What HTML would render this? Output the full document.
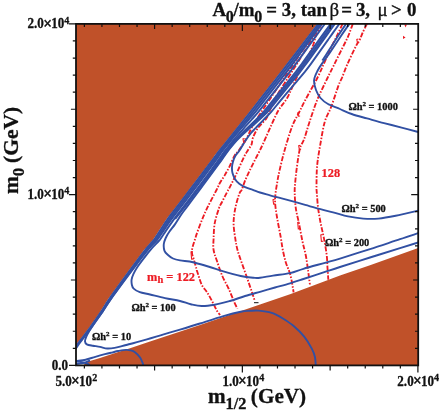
<!DOCTYPE html>
<html><head><meta charset="utf-8"><title>plot</title>
<style>
html,body{margin:0;padding:0;background:#fff;}
body{width:440px;height:415px;overflow:hidden;position:relative;font-family:"Liberation Serif",serif;}
svg{position:absolute;left:0;top:0;display:block;will-change:transform;}
text{font-family:"Liberation Serif",serif;font-weight:bold;}
</style></head><body>
<svg width="440" height="415" viewBox="0 0 440 415">
<rect x="0" y="0" width="440" height="415" fill="#fff"/>
<defs><clipPath id="pc"><rect x="76.0" y="23.9" width="342.2" height="341.5"/></clipPath></defs>
<g clip-path="url(#pc)">
<path d="M76.0 23.9L317.3 23.9L317.3 23.9L282.7 69.3L247.7 114.3L223.7 144.3L215.0 154.9L212.0 159.5L197.0 179.3L181.3 200.0L166.4 219.3L152.9 240.0L144.0 250.0L119.3 283.6L107.5 300.0L100.1 311.9L89.3 327.5L82.0 337.2L77.2 343.2L76.0 345.5L70.6 353.0Z" fill="#c05129"/>
<path d="M83.0 365.4L88.3 361.4L100.0 357.9L116.0 352.8L130.0 348.2L150.0 341.5L200.0 325.1L260.0 304.6L290.0 294.2L340.0 275.5L370.0 265.2L418.2 248.0L418.2 365.4Z" fill="#c05129"/>
<g fill="none" stroke="#ed1c24" stroke-width="1.85" stroke-dasharray="5 1.6 1.5 1.6">
<path d="M319.3 23.9C318.2 25.6 315.0 30.6 312.9 33.9C310.8 37.2 308.7 40.6 306.5 43.9C304.4 47.2 302.2 50.6 300.0 53.9C297.8 57.2 295.7 60.6 293.5 63.9C291.3 67.2 289.1 70.6 286.8 73.9C284.6 77.2 282.4 80.6 280.1 83.9C277.9 87.2 275.7 90.6 273.4 93.9C271.2 97.2 268.9 100.6 266.7 103.9C264.5 107.2 262.1 110.6 260.0 113.9C257.9 117.2 255.5 121.3 253.9 124.0C252.4 126.7 251.9 127.5 250.6 130.0C249.3 132.4 248.2 135.4 246.3 138.7C244.4 142.0 241.1 147.2 239.1 150.0C237.1 152.8 236.1 153.1 234.5 155.8C232.9 158.5 231.2 163.2 229.6 166.4C228.0 169.6 226.4 172.4 224.8 175.1C223.2 177.8 221.4 180.3 220.0 182.8C218.6 185.3 218.7 185.8 216.5 190.0C214.3 194.2 209.8 202.6 207.1 208.2C204.4 213.8 202.6 218.3 200.6 223.4C198.6 228.5 196.6 234.0 195.2 238.6C193.8 243.2 192.1 247.4 191.9 251.0C191.7 254.6 193.2 257.0 194.0 260.0C194.8 263.0 195.9 267.1 196.5 269.0C197.1 270.9 196.4 269.1 197.3 271.7C198.2 274.3 200.1 281.3 201.7 284.7C203.3 288.1 205.3 289.4 207.1 292.3C208.9 295.2 210.9 298.9 212.5 302.0C214.1 305.1 215.6 308.5 216.9 310.7C218.2 312.9 219.6 314.3 220.1 315.0"/>
<path d="M320.8 23.9C319.8 25.6 316.9 30.6 314.9 33.9C313.0 37.2 311.0 40.6 309.0 43.9C307.0 47.2 305.0 50.6 303.0 53.9C300.9 57.2 298.9 60.6 296.9 63.9C294.8 67.2 292.7 70.6 290.6 73.9C288.5 77.2 286.2 80.6 284.1 83.9C281.9 87.2 279.5 91.1 277.8 93.9C276.1 96.7 275.0 98.1 273.7 100.8C272.4 103.5 271.2 107.1 270.0 110.0C268.8 112.9 268.3 115.4 266.3 118.4C264.3 121.4 260.2 124.8 258.0 128.0C255.8 131.2 254.1 134.8 253.0 137.5C251.9 140.2 252.4 142.2 251.6 144.3C250.8 146.4 249.2 147.9 248.0 150.0C246.8 152.1 245.5 153.8 244.1 156.7C242.7 159.6 240.8 163.9 239.3 167.3C237.8 170.7 236.4 173.9 234.9 177.0C233.4 180.1 231.7 183.5 230.6 185.7C229.5 187.9 229.6 187.3 228.2 190.0C226.8 192.7 223.5 199.0 222.0 202.0C220.5 205.0 220.2 204.6 219.0 208.2C217.8 211.8 215.6 218.3 214.7 223.4C213.8 228.5 213.8 234.2 213.6 238.6C213.4 243.0 213.0 246.3 213.6 250.0C214.2 253.7 215.4 256.5 216.9 260.8C218.4 265.1 220.3 271.3 222.3 276.0C224.3 280.7 226.8 284.7 228.8 289.0C230.8 293.3 232.8 298.7 234.2 302.0C235.6 305.3 236.9 307.5 237.5 308.6"/>
<path d="M321.7 23.9C320.8 25.6 317.9 30.6 316.5 34.0C315.1 37.4 314.6 40.9 313.4 44.3C312.1 47.7 311.1 50.4 309.0 54.5C306.9 58.6 303.4 64.4 301.0 69.0C298.6 73.6 296.9 77.2 294.6 82.0C292.3 86.8 290.0 93.0 287.3 97.8C284.6 102.6 281.1 105.7 278.2 110.8C275.3 115.9 272.5 122.7 270.0 128.2C267.5 133.6 265.1 139.4 263.2 143.5C261.3 147.6 260.2 149.7 258.6 152.9C257.0 156.1 255.3 159.3 253.7 162.5C252.1 165.7 250.4 169.0 248.9 172.2C247.4 175.4 245.8 178.8 244.6 181.8C243.4 184.8 242.5 188.1 241.7 190.0C240.9 191.9 240.7 190.0 239.6 193.0C238.5 196.0 236.3 203.1 235.3 208.2C234.3 213.3 233.6 218.3 233.6 223.4C233.6 228.5 234.7 234.2 235.3 238.6C236.0 243.0 236.4 245.9 237.5 250.0C238.6 254.1 240.2 258.3 241.8 263.0C243.4 267.7 245.6 273.5 247.2 278.2C248.8 282.9 250.3 287.4 251.6 291.2C252.9 295.0 254.3 299.4 254.8 301.0"/>
<path d="M342.5 23.9C341.7 25.7 339.5 30.6 337.6 34.5C335.7 38.4 333.3 42.9 331.1 47.5C328.9 52.1 326.9 56.9 324.6 62.0C322.3 67.1 320.5 71.7 317.3 78.0C314.1 84.3 308.4 94.2 305.3 100.0C302.2 105.8 301.0 108.7 298.8 113.0C296.6 117.3 294.7 119.8 292.3 126.0C289.9 132.2 286.9 142.3 284.7 149.9C282.5 157.5 280.5 166.2 279.3 171.6C278.1 176.9 277.9 178.4 277.3 182.0C276.7 185.6 276.0 189.3 275.6 193.0C275.2 196.7 274.9 199.6 275.2 203.9C275.5 208.2 276.4 213.6 277.3 219.0C278.2 224.4 279.7 231.2 280.6 236.4C281.5 241.6 281.9 245.6 282.8 250.0C283.7 254.4 284.7 258.8 286.0 263.0C287.3 267.2 289.1 270.1 290.4 275.0C291.7 279.9 293.1 289.4 293.6 292.3"/>
<path d="M352.8 23.9C351.9 26.1 349.8 32.6 347.7 37.3C345.6 41.9 342.9 47.0 340.5 51.8C338.1 56.6 335.5 61.9 333.3 66.3C331.1 70.7 330.2 72.4 327.5 78.0C324.8 83.6 320.2 92.7 317.2 100.0C314.2 107.3 311.8 115.2 309.6 121.7C307.4 128.2 305.8 134.5 304.2 139.0C302.6 143.5 301.2 143.7 299.9 148.8C298.6 153.9 297.4 163.4 296.6 169.4C295.8 175.4 295.3 181.1 295.0 185.0C294.7 188.9 294.6 189.1 294.7 193.0C294.8 196.9 295.1 203.1 295.8 208.2C296.5 213.3 297.9 218.0 299.0 223.4C300.1 228.8 301.2 235.4 302.3 240.7C303.4 246.0 304.7 250.0 305.7 255.0C306.7 260.0 307.4 265.8 308.1 270.7C308.8 275.6 309.6 282.2 309.9 284.5"/>
<path d="M367.0 23.9C366.2 25.4 363.7 30.4 362.5 33.0C361.3 35.6 361.1 37.1 360.0 39.3C358.9 41.5 358.1 41.9 356.0 46.0C353.9 50.1 349.9 58.7 347.5 64.0C345.1 69.3 343.4 74.5 341.9 78.0C340.4 81.5 340.5 80.2 338.7 85.0C336.9 89.8 333.6 100.4 331.3 106.5C329.0 112.6 326.6 115.5 324.8 121.7C323.0 127.9 321.8 136.2 320.5 143.4C319.2 150.6 317.9 158.1 317.2 165.0C316.5 171.9 316.6 180.3 316.5 185.0C316.4 189.7 316.5 189.1 316.8 193.0C317.1 196.9 317.5 203.1 318.1 208.2C318.8 213.3 319.7 218.3 320.7 223.4C321.7 228.5 323.0 233.3 324.0 238.6C325.0 243.9 326.1 250.1 326.7 255.0C327.3 259.9 327.2 263.9 327.5 268.0C327.8 272.1 328.2 277.8 328.3 279.7"/>
</g>
<g fill="#3150a3" fill-opacity="0.55" stroke="none">
<path d="M318.2 23.9L312.1 31.9L306.0 39.9L299.9 47.9L293.8 55.9L287.7 63.9L281.6 71.9L275.4 79.9L269.1 87.9L262.9 95.9L256.7 103.9L250.5 111.9L244.1 119.9L237.7 127.9L231.3 135.9L224.9 143.9L218.4 151.9L212.6 159.9L206.5 167.9L200.5 175.9L194.4 183.9L188.3 191.9L182.3 199.9L176.1 207.9L169.9 215.9L164.3 223.9L159.1 231.9L153.9 239.9L146.8 247.9L140.6 255.9L134.7 263.9L128.8 271.9L122.9 279.9L117.1 287.9L111.4 295.9L106.0 303.9L101.0 311.9L95.5 319.9L89.9 327.9L83.9 335.9L77.7 343.9L71.5 353.0L72.7 353.0L79.0 343.9L85.1 335.9L91.2 327.9L96.9 319.9L102.5 311.9L107.6 303.9L113.1 295.9L119.0 287.9L124.9 279.9L130.9 271.9L137.0 263.9L143.0 255.9L149.6 247.9L157.2 239.9L162.7 231.9L168.1 223.9L173.9 215.9L180.1 207.9L186.3 199.9L192.3 191.9L198.4 183.9L204.4 175.9L210.3 167.9L216.2 159.9L221.7 151.9L228.1 143.9L234.7 135.9L241.6 127.9L248.6 119.9L255.5 111.9L261.7 103.9L267.9 95.9L274.1 87.9L280.4 79.9L286.6 71.9L292.6 63.9L298.4 55.9L304.3 47.9L310.2 39.9L316.0 31.9L321.9 23.9Z"/>
<path d="M330.6 23.9L324.8 31.9L319.0 39.9L313.3 47.9L307.5 55.9L301.8 63.9L295.8 71.9L289.4 79.9L282.9 87.9L276.5 95.9L270.1 103.9L263.6 111.9L255.7 119.9L247.4 127.9L239.1 135.9L231.9 143.9L225.6 151.9L220.0 159.9L214.2 167.9L206.0 179.0L207.6 179.0L215.8 167.9L221.7 159.9L227.3 151.9L233.7 143.9L241.3 135.9L250.1 127.9L259.2 119.9L267.6 111.9L274.1 103.9L280.6 95.9L287.1 87.9L293.6 79.9L300.1 71.9L306.1 63.9L311.9 55.9L317.7 47.9L323.4 39.9L329.1 31.9L334.8 23.9Z"/>
<path d="M233.4 140.0L227.2 148.0L221.1 156.0L215.6 164.0L209.8 172.0L204.0 180.0L197.9 188.0L191.8 196.0L185.7 204.0L179.5 212.0L174.1 219.0L175.2 219.0L180.7 212.0L186.9 204.0L193.1 196.0L199.2 188.0L205.3 180.0L211.2 172.0L217.0 164.0L222.5 156.0L228.7 148.0L234.9 140.0Z"/>
</g>
<g fill="none" stroke="#3150a3" stroke-width="1.9" stroke-linejoin="round">
<path d="M349.3 23.9C348.0 25.8 344.5 30.7 341.3 35.5C338.1 40.3 332.9 48.2 330.0 52.5C327.1 56.8 325.9 58.0 323.8 61.0C321.8 64.0 319.3 67.3 317.7 70.5C316.1 73.7 314.4 76.8 314.1 80.0C313.8 83.2 314.9 87.0 316.0 90.0C317.1 93.0 318.5 95.7 320.5 98.0C322.5 100.3 324.8 102.2 328.0 104.0C331.2 105.8 336.1 107.3 340.0 109.0C343.9 110.7 347.2 112.4 351.7 114.0C356.2 115.6 361.6 116.9 367.0 118.4C372.4 119.9 378.2 121.6 384.0 123.1C389.8 124.6 395.9 126.1 401.6 127.6C407.3 129.1 415.4 131.3 418.2 132.0"/>
<path d="M346.0 23.9C344.7 25.8 341.4 30.7 338.3 35.5C335.2 40.3 330.2 48.3 327.5 52.5C324.8 56.7 323.2 59.2 322.3 60.5"/>
<path d="M339.3 23.9C338.4 25.2 335.5 29.2 333.6 31.9C331.8 34.6 329.9 37.2 328.0 39.9C326.1 42.6 324.2 45.2 322.3 47.9C320.4 50.6 318.5 53.2 316.6 55.9C314.7 58.6 312.8 61.2 310.9 63.9C308.9 66.6 306.9 69.2 304.8 71.9C302.6 74.6 300.3 77.2 298.0 79.9C295.8 82.6 293.5 85.2 291.3 87.9C289.0 90.6 286.7 93.2 284.5 95.9C282.2 98.6 280.0 101.2 277.8 103.9C275.6 106.6 273.5 109.2 271.2 111.9C268.8 114.6 266.1 117.2 263.5 119.9C261.0 122.6 257.8 125.7 255.8 127.9C253.7 130.1 252.7 130.9 251.0 133.0C249.3 135.1 247.5 137.6 245.6 140.4C243.7 143.2 241.5 147.4 239.8 150.0C238.1 152.6 236.5 153.9 235.4 155.8C234.3 157.7 233.6 159.7 233.0 161.6C232.4 163.5 232.1 165.4 232.0 167.3C231.9 169.2 232.0 171.2 232.5 173.1C233.0 175.0 233.8 177.1 234.9 178.9C236.0 180.7 237.6 182.3 239.3 183.7C241.0 185.1 242.8 186.1 245.1 187.1C247.3 188.1 250.3 188.9 252.8 189.8C255.3 190.7 257.1 191.6 260.0 192.5C262.9 193.4 266.4 194.3 270.0 195.3C273.6 196.3 276.1 196.9 281.7 198.4C287.3 199.9 296.2 202.3 303.4 204.3C310.6 206.3 319.7 209.0 325.0 210.4C330.3 211.8 331.2 211.8 335.0 212.8C338.8 213.8 343.3 215.4 348.0 216.4C352.7 217.4 358.1 218.2 363.2 218.6C368.3 219.0 373.0 219.1 378.4 218.6C383.8 218.1 389.1 217.1 395.7 215.8C402.3 214.5 414.4 211.5 418.2 210.6"/>
<path d="M334.8 23.9C333.9 25.2 331.0 29.2 329.1 31.9C327.2 34.6 325.3 37.2 323.4 39.9C321.5 42.6 319.6 45.2 317.7 47.9C315.7 50.6 313.8 53.2 311.9 55.9C310.0 58.6 308.1 61.2 306.1 63.9C304.1 66.6 302.2 69.2 300.1 71.9C298.0 74.6 295.8 77.2 293.6 79.9C291.4 82.6 289.3 85.2 287.1 87.9C284.9 90.6 282.8 93.2 280.6 95.9C278.5 98.6 276.3 101.2 274.1 103.9C272.0 106.6 270.1 109.2 267.6 111.9C265.1 114.6 262.1 117.2 259.2 119.9C256.3 122.6 253.1 125.2 250.1 127.9C247.1 130.6 244.0 133.2 241.3 135.9C238.5 138.6 236.0 141.2 233.7 143.9C231.4 146.6 229.3 149.2 227.3 151.9C225.3 154.6 223.6 157.2 221.7 159.9C219.8 162.6 217.8 165.2 215.8 167.9C213.8 170.6 211.9 173.2 209.9 175.9C207.9 178.6 206.0 181.2 204.0 183.9C202.0 186.6 200.0 189.2 198.1 191.9C196.1 194.6 194.1 197.2 192.1 199.9C190.1 202.6 188.0 205.5 186.2 207.9C184.4 210.3 183.2 211.8 181.3 214.5C179.5 217.2 177.1 221.2 175.1 224.1C173.1 227.0 170.9 229.5 169.3 231.8C167.7 234.1 166.6 236.0 165.7 238.0C164.8 240.0 164.0 241.9 163.8 244.0C163.6 246.1 163.8 249.0 164.5 250.8C165.2 252.6 166.6 253.7 168.0 255.0C169.4 256.3 171.0 257.6 173.0 258.5C175.0 259.4 176.7 259.8 180.0 260.4C183.3 261.0 188.3 261.2 193.0 262.2C197.7 263.2 203.1 265.0 208.2 266.5C213.3 268.0 218.0 269.8 223.4 271.4C228.8 273.0 235.6 274.9 240.7 276.0C245.8 277.1 250.5 277.5 253.7 277.8C256.9 278.1 256.8 278.2 260.0 277.8C263.2 277.4 268.0 276.4 273.0 275.6C278.0 274.8 284.9 274.2 290.0 273.1C295.1 272.0 297.6 270.5 303.4 268.8C309.2 267.1 318.9 264.5 325.0 262.8C331.1 261.1 332.5 260.9 340.0 258.6C347.5 256.3 360.0 252.3 370.0 249.1C380.0 245.9 392.0 241.8 400.0 239.2C408.0 236.5 415.2 234.2 418.2 233.2"/>
<path d="M330.6 23.9L324.8 31.9L319.0 39.9L313.3 47.9L307.5 55.9L301.8 63.9L295.8 71.9L289.4 79.9L282.9 87.9L276.5 95.9L270.1 103.9L263.6 111.9L255.7 119.9L247.4 127.9L239.1 135.9L231.9 143.9L225.6 151.9L220.0 159.9L214.2 167.9L208.3 175.9L202.3 183.9L196.2 191.9L190.1 199.9L183.9 207.9L175.2 219.0"/>
<path d="M332.7 23.9L327.0 31.9L321.3 39.9L315.6 47.9L309.8 55.9L304.0 63.9L298.0 71.9L291.5 79.9L285.0 87.9L278.6 95.9L272.1 103.9L265.6 111.9L257.4 119.9L248.7 127.9L240.2 135.9L232.8 143.9L226.5 151.9L221.0 159.9L215.1 167.9L207.0 179.0"/>
<path d="M324.8 23.9C323.8 25.2 320.9 29.2 319.0 31.9C317.1 34.6 315.2 37.2 313.2 39.9C311.3 42.6 309.4 45.2 307.4 47.9C305.5 50.6 303.6 53.2 301.6 55.9C299.7 58.6 297.8 61.2 295.8 63.9C293.9 66.6 291.9 69.2 289.9 71.9C287.8 74.6 285.7 77.2 283.6 79.9C281.5 82.6 279.4 85.2 277.3 87.9C275.2 90.6 273.1 93.2 271.0 95.9C268.9 98.6 266.8 101.2 264.7 103.9C262.6 106.6 260.6 109.2 258.4 111.9C256.2 114.6 253.8 117.2 251.4 119.9C249.1 122.6 246.6 125.2 244.2 127.9C241.9 130.6 239.4 133.2 237.1 135.9C234.8 138.6 232.6 141.2 230.4 143.9C228.3 146.6 226.1 149.2 224.1 151.9C222.2 154.6 220.5 157.2 218.6 159.9C216.7 162.6 214.7 165.2 212.8 167.9C210.9 170.6 208.9 173.2 207.0 175.9C205.0 178.6 203.0 181.2 201.0 183.9C199.0 186.6 197.0 189.2 194.9 191.9C192.9 194.6 190.9 197.2 188.9 199.9C186.8 202.6 184.8 205.2 182.7 207.9C180.6 210.6 178.5 213.2 176.5 215.9C174.5 218.6 172.6 221.2 170.7 223.9C168.8 226.6 167.0 229.2 165.2 231.9C163.4 234.6 161.9 237.2 159.8 239.9C157.6 242.6 154.6 245.2 152.2 247.9C149.9 250.6 148.1 252.7 145.7 255.9C143.2 259.1 139.4 264.0 137.4 267.0C135.4 270.0 134.5 271.8 133.5 273.9C132.5 276.0 131.9 277.8 131.6 279.7C131.3 281.6 131.6 283.5 131.9 285.0C132.2 286.5 132.4 287.4 133.7 288.6C135.0 289.8 137.1 291.2 139.8 292.2C142.5 293.2 145.8 293.5 150.0 294.5C154.2 295.5 160.0 297.0 165.0 298.1C170.0 299.2 175.7 300.0 180.0 301.0C184.3 302.0 187.2 303.4 190.8 304.2C194.4 305.0 197.7 305.9 201.7 306.0C205.7 306.1 210.0 305.5 214.7 304.7C219.4 303.9 224.8 302.4 229.9 301.0C235.0 299.6 240.1 297.5 245.1 296.0C250.1 294.5 255.0 293.2 260.0 291.8C265.0 290.4 270.0 288.9 275.0 287.5C280.0 286.1 285.3 284.7 290.0 283.3C294.7 281.9 297.6 280.9 303.4 279.0C309.2 277.1 318.9 273.9 325.0 271.9C331.1 269.9 332.5 269.4 340.0 267.0C347.5 264.6 360.0 260.6 370.0 257.5C380.0 254.4 392.0 250.7 400.0 248.2C408.0 245.7 415.2 243.4 418.2 242.5"/>
<path d="M321.9 23.9C320.9 25.2 318.0 29.2 316.0 31.9C314.1 34.6 312.1 37.2 310.2 39.9C308.2 42.6 306.3 45.2 304.3 47.9C302.4 50.6 300.4 53.2 298.4 55.9C296.5 58.6 294.6 61.2 292.6 63.9C290.6 66.6 288.6 69.2 286.6 71.9C284.5 74.6 282.4 77.2 280.4 79.9C278.3 82.6 276.2 85.2 274.1 87.9C272.1 90.6 270.0 93.2 267.9 95.9C265.8 98.6 263.8 101.2 261.7 103.9C259.6 106.6 257.6 109.2 255.5 111.9C253.3 114.6 250.9 117.2 248.6 119.9C246.3 122.6 244.0 125.2 241.6 127.9C239.3 130.6 236.9 133.2 234.7 135.9C232.4 138.6 230.3 141.2 228.1 143.9C226.0 146.6 223.7 149.2 221.7 151.9C219.7 154.6 218.1 157.2 216.2 159.9C214.2 162.6 212.2 165.2 210.3 167.9C208.3 170.6 206.4 173.2 204.4 175.9C202.4 178.6 200.4 181.2 198.4 183.9C196.4 186.6 194.4 189.2 192.3 191.9C190.3 194.6 188.3 197.2 186.3 199.9C184.2 202.6 182.2 205.2 180.1 207.9C178.0 210.6 175.9 213.2 173.9 215.9C171.9 218.6 170.0 221.2 168.1 223.9C166.3 226.6 164.5 229.2 162.7 231.9C160.9 234.6 159.3 237.2 157.2 239.9C155.0 242.6 152.0 245.2 149.6 247.9C147.3 250.6 145.2 253.2 143.0 255.9C140.9 258.6 139.0 261.2 137.0 263.9C135.0 266.6 133.0 269.2 130.9 271.9C128.9 274.6 126.9 277.2 124.9 279.9C122.9 282.6 121.0 285.2 119.0 287.9C117.0 290.6 115.0 293.2 113.1 295.9C111.2 298.6 109.4 301.2 107.6 303.9C105.8 306.6 104.5 308.9 102.4 311.9C100.3 314.9 97.3 318.8 95.1 322.0C92.9 325.2 90.8 328.5 89.3 331.0C87.8 333.5 86.9 335.3 86.2 337.0C85.5 338.7 84.9 340.1 85.0 341.3C85.1 342.5 85.5 343.6 86.8 344.3C88.1 345.0 90.7 345.3 92.9 345.7C95.1 346.1 97.7 346.4 100.1 346.9C102.5 347.4 104.9 348.3 107.3 348.5C109.7 348.7 112.2 348.3 114.6 347.9C117.0 347.5 119.2 346.8 121.8 346.1C124.4 345.5 125.8 345.1 130.0 344.0C134.2 342.9 141.3 340.9 146.9 339.3C152.5 337.7 158.2 335.9 163.7 334.3C169.2 332.7 173.9 331.4 180.0 329.6C186.1 327.8 192.8 325.8 200.0 323.5C207.2 321.2 216.6 318.1 223.4 316.1C230.2 314.2 236.3 312.7 240.7 311.8C245.1 310.9 247.0 311.0 250.0 310.8C253.0 310.6 255.1 310.3 258.7 310.6C262.3 310.9 267.7 311.5 271.7 312.8C275.7 314.1 278.9 316.0 282.5 318.2C286.1 320.4 289.8 322.7 293.4 325.8C297.0 328.9 301.1 332.8 304.2 336.6C307.3 340.4 310.0 345.2 311.8 348.6C313.6 352.0 314.4 354.4 315.0 357.2C315.6 360.0 315.6 364.0 315.7 365.4"/>
<path d="M318.2 23.9L312.1 31.9L306.0 39.9L299.9 47.9L293.8 55.9L287.7 63.9L281.6 71.9L275.4 79.9L269.1 87.9L262.9 95.9L256.7 103.9L250.5 111.9L244.1 119.9L237.7 127.9L231.3 135.9L224.9 143.9L218.4 151.9L212.6 159.9L206.5 167.9L200.5 175.9L194.4 183.9L188.3 191.9L182.3 199.9L176.1 207.9L169.9 215.9L164.3 223.9L159.1 231.9L153.9 239.9L146.8 247.9L140.6 255.9L134.7 263.9L128.8 271.9L122.9 279.9L117.1 287.9L111.4 295.9L106.0 303.9L101.0 311.9L95.5 319.9L89.9 327.9L83.9 335.9L77.7 343.9L71.5 353.0"/>
<path d="M320.2 23.9L314.2 31.9L308.2 39.9L302.1 47.9L296.1 55.9L290.1 63.9L284.0 71.9L277.8 79.9L271.5 87.9L265.3 95.9L259.1 103.9L252.9 111.9L246.4 119.9L239.7 127.9L233.1 135.9L226.6 143.9L220.1 151.9L214.4 159.9L208.4 167.9L202.4 175.9L196.4 183.9L190.3 191.9L184.3 199.9L178.1 207.9L171.9 215.9L166.2 223.9L160.9 231.9L155.6 239.9L148.4 247.9L142.2 255.9L136.2 263.9L130.3 271.9L124.4 279.9L118.6 287.9L112.8 295.9L107.4 303.9L102.4 311.9L96.8 319.9L91.2 327.9L85.1 335.9L79.0 343.9L72.7 353.0"/>
<path d="M76.0 361.2C77.6 360.9 82.4 360.4 85.6 359.7C88.8 359.0 92.1 357.7 95.3 356.8C98.5 355.9 102.2 354.9 104.9 354.2C107.6 353.5 109.4 353.1 111.6 352.6C113.8 352.1 115.8 351.4 118.2 351.0C120.6 350.6 124.0 350.0 126.0 349.9C128.1 349.8 129.0 349.9 130.5 350.3C132.0 350.7 133.4 351.0 135.0 352.2C136.6 353.4 138.8 355.6 140.1 357.5C141.4 359.4 142.3 362.1 142.8 363.4C143.3 364.7 143.0 365.1 143.0 365.4"/>
<path d="M76.0 361.5C77.0 361.6 80.2 361.9 82.0 362.2C83.8 362.5 85.7 363.0 87.0 363.5C88.3 364.0 89.5 365.1 90.0 365.4"/>
<path d="M76.0 364.0C77.3 363.8 81.7 363.4 84.0 362.8C86.3 362.2 89.0 360.9 90.0 360.5"/>
</g>
<path d="M404.3 24.5l2.6 0l-1.3 3z M403 35.8l2.6 1.6l-2.6 1.6z" fill="#ed1c24"/>
<path d="M274.6 199.2l-1.6 0.5l0.6 4.4l1.8 -0.2M299.3 222.0l-1.6 0.5l0.6 6.4l1.8 -0.2M322.4 234.5l-1.6 0.5l0.6 6.4l1.8 -0.2M300.3 145.2l-1.6 0.5l0.6 3.6l1.8 -0.2M299.3 112.5l-1.6 0.5l0.6 3.2l1.8 -0.2M358.4 39.0l-1.6 0.5l0.6 3.2l1.8 -0.2M244.6 138.5l-1.6 0.5l0.6 3.2l1.8 -0.2M192.6 251.5l-1.6 0.5l0.6 7.2l1.8 -0.2" fill="none" stroke="#ed1c24" stroke-width="1.1"/>
<path d="M254 302.7h4.5" stroke="#111" stroke-width="1" fill="none"/>
</g>
<rect x="76.0" y="23.9" width="342.2" height="341.5" fill="none" stroke="#111" stroke-width="1.8"/>
<path d="M84.38 365.40v3.2M84.38 23.90v3.2M101.93 365.40v3.2M101.93 23.90v3.2M119.48 365.40v3.2M119.48 23.90v3.2M137.04 365.40v3.2M137.04 23.90v3.2M154.59 365.40v5.1M154.59 23.90v5.1M172.15 365.40v3.2M172.15 23.90v3.2M189.70 365.40v3.2M189.70 23.90v3.2M207.25 365.40v3.2M207.25 23.90v3.2M224.81 365.40v3.2M224.81 23.90v3.2M242.36 365.40v7.0M242.36 23.90v7.0M259.92 365.40v3.2M259.92 23.90v3.2M277.47 365.40v3.2M277.47 23.90v3.2M295.02 365.40v3.2M295.02 23.90v3.2M312.58 365.40v3.2M312.58 23.90v3.2M330.13 365.40v5.1M330.13 23.90v5.1M347.68 365.40v3.2M347.68 23.90v3.2M365.24 365.40v3.2M365.24 23.90v3.2M382.79 365.40v3.2M382.79 23.90v3.2M400.35 365.40v3.2M400.35 23.90v3.2M417.90 365.40v7.0M76.00 365.40h-7.0M76.00 348.32h-3.2M418.20 348.32h-3.2M76.00 331.25h-3.2M418.20 331.25h-3.2M76.00 314.17h-3.2M418.20 314.17h-3.2M76.00 297.10h-3.2M418.20 297.10h-3.2M76.00 280.02h-5.1M418.20 280.02h-5.1M76.00 262.95h-3.2M418.20 262.95h-3.2M76.00 245.87h-3.2M418.20 245.87h-3.2M76.00 228.80h-3.2M418.20 228.80h-3.2M76.00 211.72h-3.2M418.20 211.72h-3.2M76.00 194.65h-7.0M418.20 194.65h-7.0M76.00 177.57h-3.2M418.20 177.57h-3.2M76.00 160.50h-3.2M418.20 160.50h-3.2M76.00 143.42h-3.2M418.20 143.42h-3.2M76.00 126.35h-3.2M418.20 126.35h-3.2M76.00 109.27h-5.1M418.20 109.27h-5.1M76.00 92.20h-3.2M418.20 92.20h-3.2M76.00 75.12h-3.2M418.20 75.12h-3.2M76.00 58.05h-3.2M418.20 58.05h-3.2M76.00 40.97h-3.2M418.20 40.97h-3.2M76.00 23.90h-7.0" fill="none" stroke="#111" stroke-width="1.2"/>
<g fill="#111" stroke="#111" stroke-width="0.3">
<g transform="translate(212.6,16.3) scale(1,1)"><text text-anchor="start" font-size="18.9" >A<tspan dy="5.3" dx="-0.5" font-size="16">0</tspan><tspan dy="-5.3" dx="-0.3">/m</tspan><tspan dy="5.3" dx="-0.3" font-size="16">0</tspan><tspan dy="-5.3" dx="-0.6"> = 3, tan</tspan></text></g>
<text y="16.3" font-size="18.9"><tspan x="329.6" font-weight="normal">β</tspan><tspan x="341.3">=</tspan><tspan x="355.9">3,</tspan><tspan x="377.5" font-weight="normal">μ</tspan><tspan x="391">&gt;</tspan><tspan x="407">0</tspan></text>
<g transform="translate(69.3,28.3) scale(0.935,1)"><text text-anchor="end" font-size="14.0" >2.0<tspan font-size="16.5" dx="-0.8" dy="0.6">×</tspan><tspan dx="-0.8" dy="-0.6">10</tspan><tspan dy="-4.7" font-size="10.8">4</tspan></text></g>
<g transform="translate(69.3,198.8) scale(0.935,1)"><text text-anchor="end" font-size="14.0" >1.0<tspan font-size="16.5" dx="-0.8" dy="0.6">×</tspan><tspan dx="-0.8" dy="-0.6">10</tspan><tspan dy="-4.7" font-size="10.8">4</tspan></text></g>
<g transform="translate(68,369.6) scale(0.935,1)"><text text-anchor="end" font-size="14.0" >0.0</text></g>
<g transform="translate(76.3,385.7) scale(0.935,1)"><text text-anchor="middle" font-size="14.0" >5.0<tspan font-size="16.5" dx="-0.8" dy="0.6">×</tspan><tspan dx="-0.8" dy="-0.6">10</tspan><tspan dy="-4.7" font-size="10.8">2</tspan></text></g>
<g transform="translate(243.3,385.7) scale(0.935,1)"><text text-anchor="middle" font-size="14.0" >1.0<tspan font-size="16.5" dx="-0.8" dy="0.6">×</tspan><tspan dx="-0.8" dy="-0.6">10</tspan><tspan dy="-4.7" font-size="10.8">4</tspan></text></g>
<g transform="translate(418.2,385.7) scale(0.935,1)"><text text-anchor="middle" font-size="14.0" >2.0<tspan font-size="16.5" dx="-0.8" dy="0.6">×</tspan><tspan dx="-0.8" dy="-0.6">10</tspan><tspan dy="-4.7" font-size="10.8">4</tspan></text></g>
<g transform="translate(257,402.5) scale(1,1)"><text text-anchor="middle" font-size="21.2" >m<tspan dy="6" font-size="16.3">1/2</tspan><tspan dy="-6" dx="-0.8"> (GeV)</tspan></text></g>
<text transform="translate(18.4,150.5) rotate(-90)" text-anchor="middle" font-size="21.5">m<tspan dy="5.5" font-size="17">0</tspan><tspan dy="-5.5" dx="-0.7"> (GeV)</tspan></text>
<text x="348.4" y="110" font-size="10.4">Ωh<tspan dy="-3.8" font-size="7">2</tspan><tspan dy="3.8"> = 1000</tspan></text>
<text x="341.5" y="212" font-size="10.4">Ωh<tspan dy="-3.8" font-size="7">2</tspan><tspan dy="3.8"> = 500</tspan></text>
<text x="325" y="246" font-size="10.4">Ωh<tspan dy="-3.8" font-size="7">2</tspan><tspan dy="3.8"> = 200</tspan></text>
<text x="131.4" y="311" font-size="10.4">Ωh<tspan dy="-3.8" font-size="7">2</tspan><tspan dy="3.8"> = 100</tspan></text>
<text x="92" y="339.5" font-size="10.4">Ωh<tspan dy="-3.8" font-size="7">2</tspan><tspan dy="3.8"> = 10</tspan></text>
</g>
<g fill="#ed1c24" stroke="#ed1c24" stroke-width="0.25">
<g transform="translate(321.6,177) scale(0.93,1)"><text font-size="13.3">128</text></g>
<g transform="translate(147.1,280.7) scale(0.93,1)"><text font-size="13.3">m<tspan dy="2.6" font-size="11.3">h</tspan><tspan dy="-2.6"> = 122</tspan></text></g>
</g>
</svg>
</body></html>
